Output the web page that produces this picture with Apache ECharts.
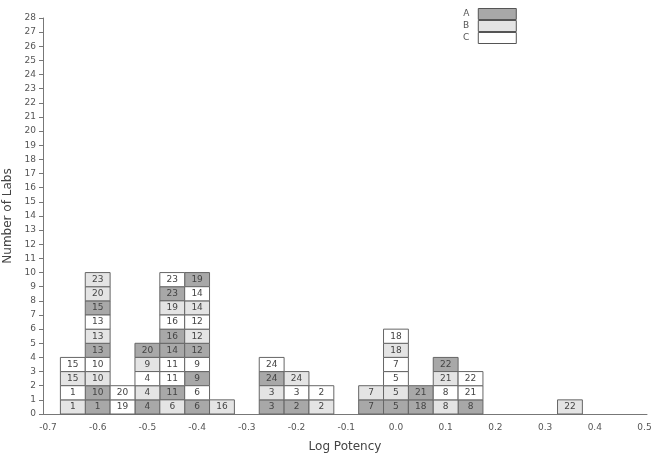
<!DOCTYPE html>
<html>
<head>
<meta charset="utf-8">
<script src="https://cdn.jsdelivr.net/npm/echarts@6/dist/echarts.min.js"></script>
<style>
  html, body { margin: 0; padding: 0; background: #fff; }
  #chart { width: 654px; height: 455px; }
</style>
</head>
<body>
<div id="chart"></div>
<script>
// histogram of lab log potencies, every box = one lab, shaded by sample A/B/C
const binCenters = [-0.65, -0.60, -0.55, -0.50, -0.45, -0.40, -0.35, -0.25, -0.20, -0.15, -0.05, 0.00, 0.05, 0.10, 0.15, 0.35];
// lab numbers, bottom to top
const binLabs = [
  [1, 1, 15, 15],
  [1, 10, 10, 10, 13, 13, 13, 15, 20, 23],
  [19, 20],
  [4, 4, 4, 9, 20],
  [6, 11, 11, 11, 14, 16, 16, 19, 23, 23],
  [6, 6, 9, 9, 12, 12, 12, 14, 14, 19],
  [16],
  [3, 3, 24, 24],
  [2, 3, 24],
  [2, 2],
  [7, 7],
  [5, 5, 5, 7, 18, 18],
  [18, 21],
  [8, 8, 21, 22],
  [8, 21, 22],
  [22]
];
// sample of each box, same order
const binGroups = [
  ["B", "C", "B", "C"],
  ["A", "A", "B", "C", "A", "B", "C", "A", "B", "B"],
  ["C", "C"],
  ["A", "B", "C", "B", "A"],
  ["B", "A", "C", "C", "A", "A", "C", "B", "A", "C"],
  ["A", "C", "A", "C", "A", "B", "C", "B", "C", "A"],
  ["B"],
  ["A", "B", "A", "C"],
  ["A", "C", "B"],
  ["B", "C"],
  ["A", "B"],
  ["A", "B", "C", "C", "B", "C"],
  ["A", "A"],
  ["B", "C", "B", "A"],
  ["A", "C", "C"],
  ["B"]
];
const groups = ["A", "B", "C"];
const groupColors = { A: "#a8a8a8", B: "#e4e4e4", C: "#ffffff" };
const xTicks = [-0.7, -0.6, -0.5, -0.4, -0.3, -0.2, -0.1, 0.0, 0.1, 0.2, 0.3, 0.4, 0.5];
const binWidth = 0.05;

const FONT = "DejaVu Sans";
const chart = echarts.init(document.getElementById("chart"));

const cells = { A: [], B: [], C: [] };
binCenters.forEach((x, i) => {
  binLabs[i].forEach((lab, j) => cells[binGroups[i][j]].push([x, j, lab]));
});

function renderCell(params, api) {
  const x = api.value(0), y = api.value(1);
  const p0 = api.coord([x - binWidth / 2, y + 1]);
  const p1 = api.coord([x + binWidth / 2, y]);
  return {
    type: "rect",
    shape: { x: p0[0], y: p0[1], width: p1[0] - p0[0], height: p1[1] - p0[1] },
    style: {
      fill: api.visual("color"), stroke: "#666", lineWidth: 1,
      text: String(api.value(2)), textFill: "#444",
      fontSize: 9, fontFamily: FONT
    }
  };
}

chart.setOption({
  animation: false,
  textStyle: { fontFamily: FONT },
  grid: { left: 43, right: 7, top: 18, bottom: 41, outerBoundsMode: "none" },
  legend: {
    orient: "vertical", left: 458, top: 3, itemGap: 0,
    itemWidth: 38, itemHeight: 11, align: "right", icon: "rect",
    itemStyle: { borderColor: "#555", borderWidth: 1 },
    textStyle: { fontSize: 9, color: "#555", lineHeight: 11, padding: [0, 4, 0, 0] },
    data: groups
  },
  xAxis: {
    type: "value", min: -0.71, max: 0.505,
    name: "Log Potency", nameLocation: "middle", nameGap: 27,
    nameTextStyle: { fontSize: 12, color: "#444" },
    splitLine: { show: false },
    axisLine: { onZero: false, lineStyle: { color: "#777" } },
    axisTick: { show: false },
    axisLabel: {
      customValues: xTicks, fontSize: 9, color: "#555", margin: 9,
      formatter: v => v.toFixed(1)
    }
  },
  yAxis: {
    type: "value", min: 0, max: 28, interval: 1,
    name: "Number of Labs", nameLocation: "middle", nameGap: 28,
    nameTextStyle: { fontSize: 12, color: "#444" },
    splitLine: { show: false },
    axisLine: { show: true, onZero: false, lineStyle: { color: "#777" } },
    axisTick: { show: true, length: 4, lineStyle: { color: "#777" } },
    axisLabel: { fontSize: 9, color: "#555", margin: 7 }
  },
  series: groups.map(g => ({
    name: g, type: "custom", renderItem: renderCell,
    itemStyle: { color: groupColors[g] },
    encode: { x: 0, y: 1 },
    data: cells[g]
  }))
});
</script>
</body>
</html>
